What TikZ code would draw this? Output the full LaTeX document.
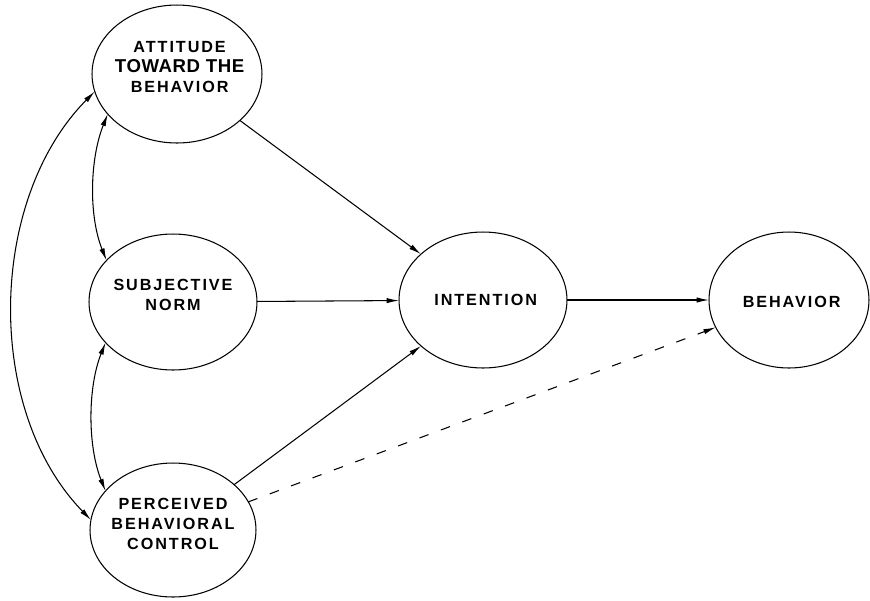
\documentclass[tikz,border=0pt]{standalone}
\usepackage{fontspec}
\setmainfont{Liberation Sans}
\newfontfamily\lblfont[LetterSpace=12]{Liberation Sans}
\newfontfamily\bigfont[LetterSpace=3]{Liberation Sans}
\usetikzlibrary{shapes.geometric,arrows.meta}

\tikzset{
  oval/.style={ellipse, draw, line width=0.6pt, minimum width=3.36cm,
    minimum height=2.72cm, inner sep=0pt, outer sep=0pt},
  lbl/.style={align=center, inner sep=0pt,
    font=\lblfont\bfseries\fontsize{9.2}{11.5}\selectfont},
  link/.style={->, line width=0.6pt},
  dash link/.style={->, line width=0.6pt, dash pattern=on 5.5pt off 7.5pt},
}

\begin{document}
\begin{tikzpicture}[x=0.02cm, y=-0.02cm, >={Latex[length=7pt,width=3pt]}]
  \useasboundingbox (0,0) rectangle (870,600);

  % Constructs
  \node[oval, minimum width=3.4cm, minimum height=2.76cm] (att) at (177,74) {};
  \node[oval] (sn)  at (173,302) {};
  \node[oval, minimum width=3.32cm, minimum height=2.68cm] (pbc) at (173,530) {};
  \node[oval] (int) at (483,300) {};
  \node[oval, minimum width=3.2cm] (beh) at (789,300) {};

  % Labels
  \node[lbl] (att-txt) at ([xshift=1.5pt,yshift=4pt]att.center)
    {ATTITUDE\\{\bigfont\bfseries\fontsize{10.6}{11.5}\selectfont TOWARD THE}\\BEHAVIOR};
  \node[lbl] (sn-txt)  at ([yshift=4pt]sn.center) {SUBJECTIVE\\NORM};
  \node[lbl] (pbc-txt) at ([yshift=3.5pt]pbc.center) {PERCEIVED\\BEHAVIORAL\\CONTROL};
  \node[lbl] (int-txt) at ([xshift=1.5pt]int.center) {INTENTION};
  \node[lbl] (beh-txt) at ([xshift=1.5pt,yshift=-1pt]beh.center) {BEHAVIOR};

  % Correlations
  \draw[<->, line width=0.6pt] (att.192) .. controls +(-107,108) and +(-107,-110) .. (pbc.173);
  \draw[<->, line width=0.6pt] (att.210) .. controls +(-18,45) and +(-18,-45) .. (sn.148);
  \draw[<->, line width=0.6pt] (sn.211) .. controls +(-18,45) and +(-18,-45) .. (pbc.150);

  % Paths
  \draw[link] (att) -- (int);
  \draw[link] (sn) -- (int);
  \draw[link] (pbc) -- (int);
  \draw[link] (int) -- (beh);
  \draw[dash link] (pbc) -- (beh);
\end{tikzpicture}
\end{document}
